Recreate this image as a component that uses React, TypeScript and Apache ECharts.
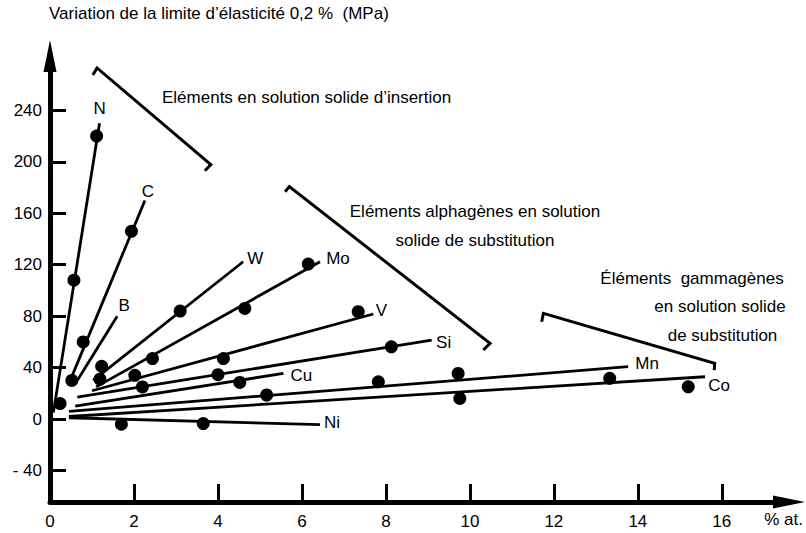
import { useEffect, useRef } from 'react';
import * as echarts from 'echarts';

const FONT = '"Liberation Sans", Arial, Helvetica, sans-serif';

// ---- axes ----
const xTickValues = [2, 4, 6, 8, 10, 12, 14, 16];
const xLabelValues = [0, 2, 4, 6, 8, 10, 12, 14, 16];
const yTickValues = [-40, 0, 40, 80, 120, 160, 200, 240];
const yAxisTitle = 'Variation de la limite d’élasticité 0,2 %  (MPa)';
const xAxisTitle = '% at.';

// ---- element lines (start / end in % at., MPa) ----
const elementNames = ['N', 'C', 'B', 'W', 'Mo', 'V', 'Si', 'Cu', 'Mn', 'Co', 'Ni'];
const lineStarts = [
  [0.08, 5], [0.43, 26], [0.63, 29], [1.03, 30], [1.1, 25], [1.0, 22],
  [0.65, 17], [0.6, 10], [0.45, 6], [0.45, 2], [0.45, 1],
];
const lineEnds = [
  [1.18, 230], [2.26, 170], [1.6, 80], [4.6, 122.3], [6.43, 122.3], [7.7, 81.7],
  [9.09, 61.4], [5.56, 35.5], [13.77, 40.7], [15.6, 32.9], [6.43, -4.3],
];

// ---- measured points ----
const pointsN = [[0.24, 12], [0.57, 108], [1.11, 220]];
const pointsC = [[0.52, 30], [0.79, 60], [1.94, 146]];
const pointsB: number[][] = [];
const pointsW = [[1.23, 41], [3.1, 84]];
const pointsMo = [[1.19, 31], [2.44, 47], [4.64, 86], [6.15, 120.5]];
const pointsV = [[2.02, 34], [4.13, 47], [7.34, 83.5]];
const pointsSi = [[2.2, 25], [4.0, 34.5], [8.13, 56.2]];
const pointsCu = [[4.52, 28.5]];
const pointsMn = [[5.16, 18.7], [7.82, 29], [9.72, 35.5]];
const pointsCo = [[9.76, 16], [13.33, 31.7], [15.2, 25.1]];
const pointsNi = [[1.7, -4], [3.65, -3.5]];
const pointSets = [pointsN, pointsC, pointsB, pointsW, pointsMo, pointsV, pointsSi, pointsCu, pointsMn, pointsCo, pointsNi];

// ---- group brackets ----
const bracketInsertion = [[1.02, 267.6], [1.12, 273], [3.83, 197.9], [3.69, 193.1]];
const bracketAlpha = [[5.6, 176.8], [5.7, 180.7], [10.48, 58.9], [10.32, 53.7]];
const bracketGamma = [[11.71, 75.7], [11.75, 82.2], [15.83, 43.3], [15.82, 38.1]];
const groupInsertion = ['Eléments en solution solide d’insertion'];
const groupAlpha = ['Eléments alphagènes en solution', 'solide de substitution'];
const groupGamma = ['Éléments  gammagènes', 'en solution solide', 'de substitution'];

// label offsets in pixels from each line's end (style only)
const labelOffsets: Record<string, number[]> = {
  N: [0, -15], C: [3, -9], B: [7, -11], W: [12, -3], Mo: [18, -3], V: [8, -3],
  Si: [12, 2], Cu: [18, 2], Mn: [19, -3], Co: [14, 9], Ni: [12, -2],
};

function txt(text: string, x: number, y: number, align: string) {
  return {
    type: 'text',
    x,
    y,
    silent: true,
    style: {
      text,
      fill: '#000',
      fontSize: 17,
      fontFamily: FONT,
      align,
      verticalAlign: 'middle',
      textAlign: align,
      textVerticalAlign: 'middle',
    },
  };
}

function buildOption() {
  const lineSeries = elementNames.map((n, i) => ({
    type: 'line',
    name: n,
    data: [lineStarts[i], lineEnds[i]],
    symbol: 'none',
    silent: true,
    clip: false,
    lineStyle: { color: '#000', width: 2.8, opacity: 1 },
    z: 3,
  }));
  const pointSeries = elementNames.map((n, i) => ({
    type: 'scatter',
    name: n + ' points',
    data: pointSets[i],
    symbol: 'circle',
    symbolSize: 13,
    silent: true,
    clip: false,
    itemStyle: { color: '#000', opacity: 1 },
    z: 4,
  }));
  const labelSeries = {
    type: 'scatter',
    name: 'labels',
    symbolSize: 1,
    silent: true,
    clip: false,
    itemStyle: { color: 'rgba(255,255,255,0)', opacity: 1 },
    label: {
      show: true,
      position: 'inside',
      formatter: '{b}',
      color: '#000',
      opacity: 1,
      fontSize: 17,
      fontFamily: FONT,
    },
    data: elementNames.map((n, i) => ({
      name: n,
      value: lineEnds[i],
      label: { offset: labelOffsets[n] },
    })),
    z: 5,
  };
  const bracketSeries = [bracketInsertion, bracketAlpha, bracketGamma].map((b, i) => ({
    type: 'line',
    name: 'bracket' + i,
    data: b,
    symbol: 'none',
    silent: true,
    clip: false,
    lineStyle: { color: '#000', width: 3, join: 'miter', opacity: 1 },
    z: 3,
  }));

  return {
    animation: false,
    backgroundColor: '#fff',
    grid: { left: 50, right: 17, top: 56, bottom: 31, containLabel: false },
    xAxis: {
      type: 'value',
      min: 0,
      max: 17.6,
      axisLine: {
        show: true,
        onZero: false,
        symbol: ['none', 'triangle'],
        symbolSize: [13, 32],
        lineStyle: { color: '#000', width: 5 },
      },
      axisTick: {
        show: true,
        inside: true,
        length: 18,
        customValues: xTickValues,
        lineStyle: { color: '#000', width: 3 },
      },
      axisLabel: {
        customValues: xLabelValues,
        color: '#000',
        fontSize: 17,
        fontFamily: FONT,
        margin: 11,
      },
      splitLine: { show: false },
    },
    yAxis: {
      type: 'value',
      min: -64.5,
      max: 282.3,
      axisLine: {
        show: true,
        onZero: false,
        symbol: ['none', 'triangle'],
        symbolSize: [13, 32],
        lineStyle: { color: '#000', width: 5 },
      },
      axisTick: {
        show: true,
        inside: true,
        length: 16,
        customValues: yTickValues,
        lineStyle: { color: '#000', width: 3 },
      },
      axisLabel: {
        customValues: yTickValues,
        color: '#000',
        fontSize: 17,
        fontFamily: FONT,
        margin: 8,
        formatter: (v: number) => (v < 0 ? '- ' + Math.abs(v) : String(v)),
      },
      splitLine: { show: false },
    },
    series: [...lineSeries, ...bracketSeries, ...pointSeries, labelSeries],
    graphic: [
      txt(yAxisTitle, 49, 13.5, 'left'),
      txt(xAxisTitle, 803, 519, 'right'),
      txt(groupInsertion[0], 162, 97.5, 'left'),
      txt(groupAlpha[0], 475, 211, 'center'),
      txt(groupAlpha[1], 475, 240, 'center'),
      txt(groupGamma[0], 692, 278, 'center'),
      txt(groupGamma[1], 720, 306, 'center'),
      txt(groupGamma[2], 722.5, 335, 'center'),
    ],
  };
}

export default function App() {
  const ref = useRef<HTMLDivElement>(null);
  useEffect(() => {
    if (!ref.current) return;
    const chart = echarts.init(ref.current, null, { renderer: 'svg' });
    chart.setOption(buildOption() as any);
    return () => chart.dispose();
  }, []);
  return (
    <div
      ref={ref}
      style={{ position: 'fixed', left: 0, top: 0, width: 806, height: 533, background: '#fff' }}
    />
  );
}
